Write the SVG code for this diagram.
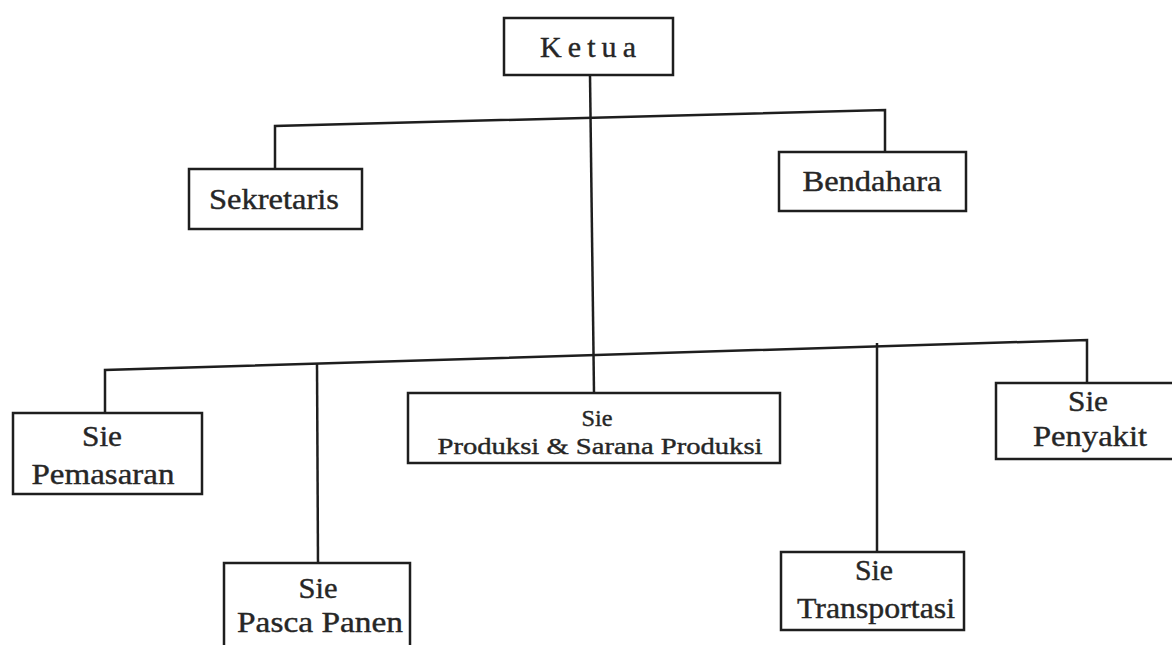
<svg xmlns="http://www.w3.org/2000/svg" width="1172" height="645" viewBox="0 0 1172 645">
<style>
.box{fill:#fff;stroke:#1e1e1e;stroke-width:2.5}
.ln{fill:none;stroke:#1e1e1e;stroke-width:2.5}
text{fill:#262626;stroke:#262626;stroke-width:0.4;text-anchor:middle}
.t{font-size:30px}
.s{font-size:24px}
</style>
<rect width="1172" height="645" fill="#fff"/>
<g id="connectors">
<path class="ln" d="M590,75 L594,393"/>
<path class="ln" d="M275,169 L275,126 L885,110 L885,152"/>
<path class="ln" d="M105,413 L105,370 L1087,340 L1087,383"/>
<path class="ln" d="M317,363 L318,563"/>
<path class="ln" d="M877,343 L877,552"/>
</g>
<g font-family="'Liberation Serif', 'DejaVu Serif', serif">
<g id="ketua"><rect class="box" x="504" y="18" width="169" height="57"/><text class="t" x="588" y="57" textLength="96" lengthAdjust="spacing">Ketua</text></g>
<g id="sekretaris"><rect class="box" x="189" y="169" width="173" height="60"/><text class="t" x="274" y="209" textLength="130" lengthAdjust="spacingAndGlyphs">Sekretaris</text></g>
<g id="bendahara"><rect class="box" x="779" y="152" width="187" height="59"/><text class="t" x="872" y="191" textLength="139" lengthAdjust="spacingAndGlyphs">Bendahara</text></g>
<g id="pemasaran"><rect class="box" x="13" y="413" width="189" height="81"/><text class="t" x="102" y="446" textLength="40" lengthAdjust="spacingAndGlyphs">Sie</text><text class="t" x="103" y="484" textLength="143" lengthAdjust="spacingAndGlyphs">Pemasaran</text></g>
<g id="produksi"><rect class="box" x="408" y="393" width="372" height="70"/><text class="s" x="597" y="426" textLength="31" lengthAdjust="spacingAndGlyphs">Sie</text><text class="s" x="600" y="454" textLength="325" lengthAdjust="spacingAndGlyphs">Produksi &amp; Sarana Produksi</text></g>
<g id="penyakit"><rect class="box" x="996" y="383" width="184" height="76"/><text class="t" x="1088" y="411" textLength="40" lengthAdjust="spacingAndGlyphs">Sie</text><text class="t" x="1090" y="446" textLength="114" lengthAdjust="spacingAndGlyphs">Penyakit</text></g>
<g id="pasca-panen"><rect class="box" x="224" y="563" width="186" height="90"/><text class="t" x="318" y="598" textLength="39" lengthAdjust="spacingAndGlyphs">Sie</text><text class="t" x="320" y="632" textLength="166" lengthAdjust="spacingAndGlyphs">Pasca Panen</text></g>
<g id="transportasi"><rect class="box" x="781" y="552" width="183" height="78"/><text class="t" x="874" y="580" textLength="38" lengthAdjust="spacingAndGlyphs">Sie</text><text class="t" x="876" y="618" textLength="158" lengthAdjust="spacingAndGlyphs">Transportasi</text></g>
</g>
</svg>
